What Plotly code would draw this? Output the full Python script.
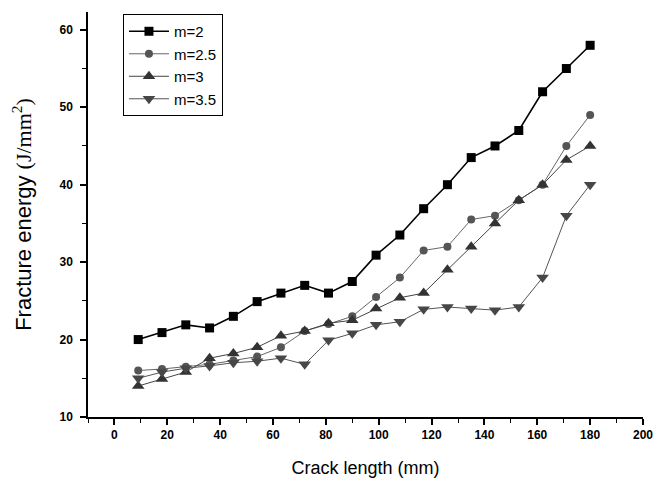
import plotly.graph_objects as go

crack_length = [9, 18, 27, 36, 45, 54, 63, 72, 81, 90, 99, 108, 117, 126, 135, 144, 153, 162, 171, 180]
m2 = [20, 20.9, 21.9, 21.5, 23, 24.9, 26, 27, 26, 27.5, 30.9, 33.5, 36.9, 40, 43.5, 45, 47, 52, 55, 58]
m25 = [16, 16.2, 16.5, 16.8, 17.3, 17.8, 19, 21.1, 22, 23, 25.5, 28, 31.5, 32, 35.5, 36, 38, 40, 45, 49]
m3 = [14, 14.9, 15.8, 17.6, 18.2, 19, 20.5, 21.1, 22.1, 22.5, 24, 25.4, 26, 29, 32, 35, 38, 40, 43.2, 45]
m35 = [15, 15.8, 16.3, 16.6, 17, 17.2, 17.6, 16.8, 19.9, 20.8, 21.9, 22.3, 23.9, 24.2, 24, 23.8, 24.2, 28, 36, 40]

series = [
    ("m=2", m2, "square", 9, "#000000", "#000000", 1.6),
    ("m=2.5", m25, "circle", 8, "#555555", "#666666", 1.0),
    ("m=3", m3, "triangle-up", 11, "#333333", "#444444", 1.0),
    ("m=3.5", m35, "triangle-down", 11, "#474747", "#555555", 1.0),
]

fig = go.Figure()
for name, ys, sym, size, mcol, lcol, lw in series:
    fig.add_trace(go.Scatter(
        x=crack_length, y=ys, name=name, mode="lines+markers",
        line=dict(color=lcol, width=lw),
        marker=dict(symbol=sym, size=size, color=mcol, line=dict(width=0)),
    ))

tickfont = dict(family="Liberation Sans, Arial, sans-serif", size=12, color="black", weight="bold")

# page body adds an 8px margin, so the figure is sized/offset to compensate
fig.update_layout(
    width=656, height=472,
    paper_bgcolor="white", plot_bgcolor="white",
    margin=dict(l=80, r=21, t=4, b=63, autoexpand=False),
    showlegend=True,
    legend=dict(
        x=0.063, y=0.995, xanchor="left", yanchor="top",
        bordercolor="black", borderwidth=1, bgcolor="white",
        font=dict(family="Liberation Sans, Arial, sans-serif", size=15, color="black"),
        tracegroupgap=0, itemwidth=40,
    ),
    xaxis=dict(
        range=[-10, 200], tick0=0, dtick=20, showgrid=False, zeroline=False, automargin=False,
        showline=True, linecolor="black", linewidth=1.5,
        ticks="outside", ticklen=6, tickwidth=1.5, tickcolor="black",
        minor=dict(ticks="outside", dtick=10, ticklen=4, tickwidth=1.2, tickcolor="black", showgrid=False),
        tickfont=tickfont,
        title=dict(text="Crack length (mm)", standoff=20,
                   font=dict(family="Liberation Sans, Arial, sans-serif", size=18, color="black")),
    ),
    yaxis=dict(
        range=[10, 62.3], tick0=10, dtick=10, showgrid=False, zeroline=False, automargin=False,
        showline=True, linecolor="black", linewidth=1.5,
        ticks="outside", ticklen=6, tickwidth=1.5, tickcolor="black", ticklabelstandoff=5,
        minor=dict(ticks="outside", dtick=5, ticklen=4, tickwidth=1.2, tickcolor="black", showgrid=False),
        tickfont=tickfont,
        title=dict(text="Fracture energy <span style=\"font-family:'Liberation Serif', 'Times New Roman', serif\">(J/mm<sup>2</sup>)</span>",
                   standoff=27,
                   font=dict(family="Liberation Sans, Arial, sans-serif", size=22, color="black")),
    ),
)

fig.write_html("out.html")
